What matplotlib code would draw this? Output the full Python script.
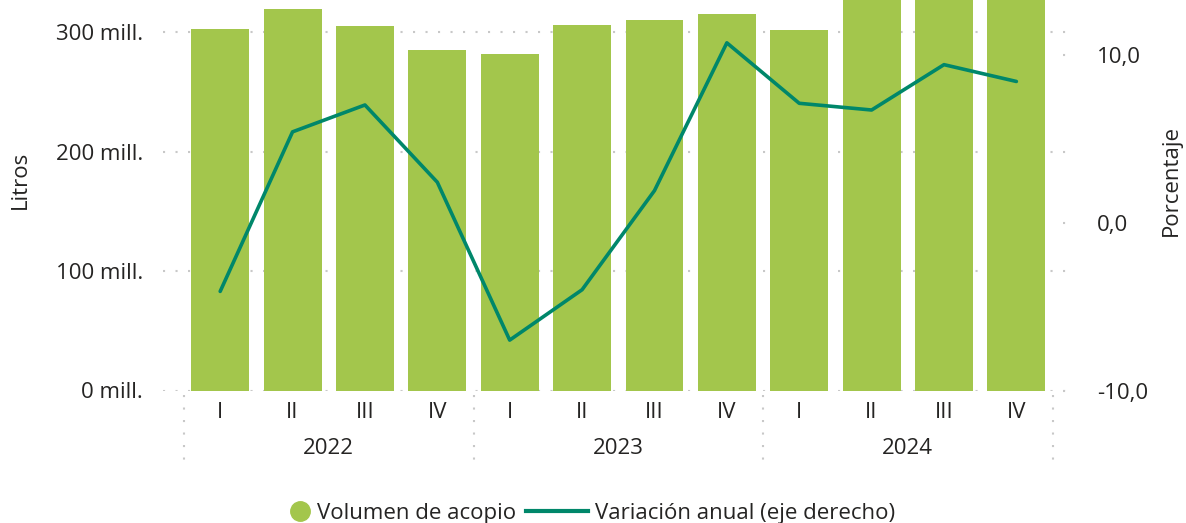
import matplotlib
matplotlib.use("Agg")
import matplotlib.pyplot as plt
from matplotlib.lines import Line2D
from matplotlib.legend_handler import HandlerBase
import matplotlib.transforms as mtransforms

plt.rcParams['font.family'] = ['Open Sans', 'DejaVu Sans']

years = ["2022", "2023", "2024"]
quarters = ["I", "II", "III", "IV"]
volumen_mill = [302.5, 319, 305, 285, 281.5, 306, 310, 315, 302, 328, 339, 341]
variacion = [-4.1, 5.4, 7.0, 2.4, -7.0, -4.0, 1.9, 10.7, 7.1, 6.7, 9.4, 8.4]

bar_color = "#A3C64C"
line_color = "#00876A"
grid_color = "#C8C8C8"
text_color = "#252423"
fs = 16

W, H = 1186, 523
PT = 72 / 100  # points per pixel
fig = plt.figure(figsize=(W / 100, H / 100), dpi=100)
left_px, right_px, bottom_px, top_px = 163, 1075, 390.5, 0
ax = fig.add_axes([left_px / W, 1 - bottom_px / H, (right_px - left_px) / W, (bottom_px - top_px) / H])

n = len(volumen_mill)
x = list(range(n))
ax.set_xlim(-0.79, n - 1 + 0.81)
ax.set_ylim(0, 326.8)

yt = [0, 100, 200, 300]
for v in yt:
    ax.axhline(v, color=grid_color, linestyle=(0, (1, 5)), linewidth=1.5, zorder=0)

ax.bar(x, volumen_mill, width=0.8, color=bar_color, zorder=2)

ax.set_yticks(yt)
ax.set_yticklabels([f"{v} mill." for v in yt], fontsize=fs, color=text_color)
ax.tick_params(axis='y', length=0, pad=20 * PT)
ax.set_ylabel("Litros", fontsize=fs, color=text_color)
ax.yaxis.set_label_coords((31 - left_px) / (right_px - left_px), 1 - 180 / bottom_px)

labels = [q for _ in years for q in quarters]
ax.set_xticks(x)
ax.set_xticklabels(labels, fontsize=fs, color=text_color)
ax.tick_params(axis='x', length=0, pad=12 * PT)

for s in ax.spines.values():
    s.set_visible(False)

trans = mtransforms.blended_transform_factory(ax.transData, fig.transFigure)
for i, yr in enumerate(years):
    ax.text(i * 4 + 1.5, 1 - 449 / H, yr, transform=trans, ha='center', va='center',
            fontsize=fs, color=text_color)
for b in [-0.5, 3.5, 7.5, 11.5]:
    ax.add_line(Line2D([b, b], [1 - 395 / H, 1 - 470 / H], transform=trans,
                       color=grid_color, linestyle=(0, (1, 5)), linewidth=1.5, clip_on=False))

ax2 = ax.twinx()
ax2.set_ylim(-9.97, 13.25)
ax2.plot(x, variacion, color=line_color, linewidth=2.6, zorder=3, solid_capstyle='round')
rt = [-10, 0, 10]
ax2.set_yticks(rt)
ax2.set_yticklabels([f"{v:.1f}".replace(".", ",") for v in rt], fontsize=fs, color=text_color)
ax2.tick_params(axis='y', length=0, pad=22 * PT)
ax2.set_ylabel("Porcentaje", fontsize=fs, color=text_color)
ax2.yaxis.set_label_coords((1161 - left_px) / (right_px - left_px), 1 - 180 / bottom_px)
for s in ax2.spines.values():
    s.set_visible(False)
t2 = mtransforms.blended_transform_factory(ax2.transAxes, ax2.transData)
for v in rt:
    ax2.add_line(Line2D([0.987, 1.0], [v, v], transform=t2, color=grid_color,
                        linestyle=(0, (1, 5)), linewidth=1.5, clip_on=False))


class RightDot(HandlerBase):
    def create_artists(self, legend, orig_handle, xdescent, ydescent, width, height, fontsize, trans):
        d = Line2D([width - 7], [height / 2 - ydescent], marker='o', linestyle='none',
                   markersize=14, color=bar_color)
        d.set_transform(trans)
        return [d]


dot = Line2D([], [], marker='o', linestyle='none', color=bar_color)
line = Line2D([], [], color=line_color, linewidth=3)
fig.legend([dot, line], ["Volumen de acopio", "Variación anual (eje derecho)"],
           handler_map={dot: RightDot()},
           loc='center left', bbox_to_anchor=(248 / W, 1 - 513 / H), ncol=2, frameon=False,
           fontsize=fs, handlelength=62 / 22.2, handletextpad=0.3, columnspacing=0.45,
           borderpad=0, borderaxespad=0, labelcolor=text_color)

fig.savefig("out.png", dpi=100)
